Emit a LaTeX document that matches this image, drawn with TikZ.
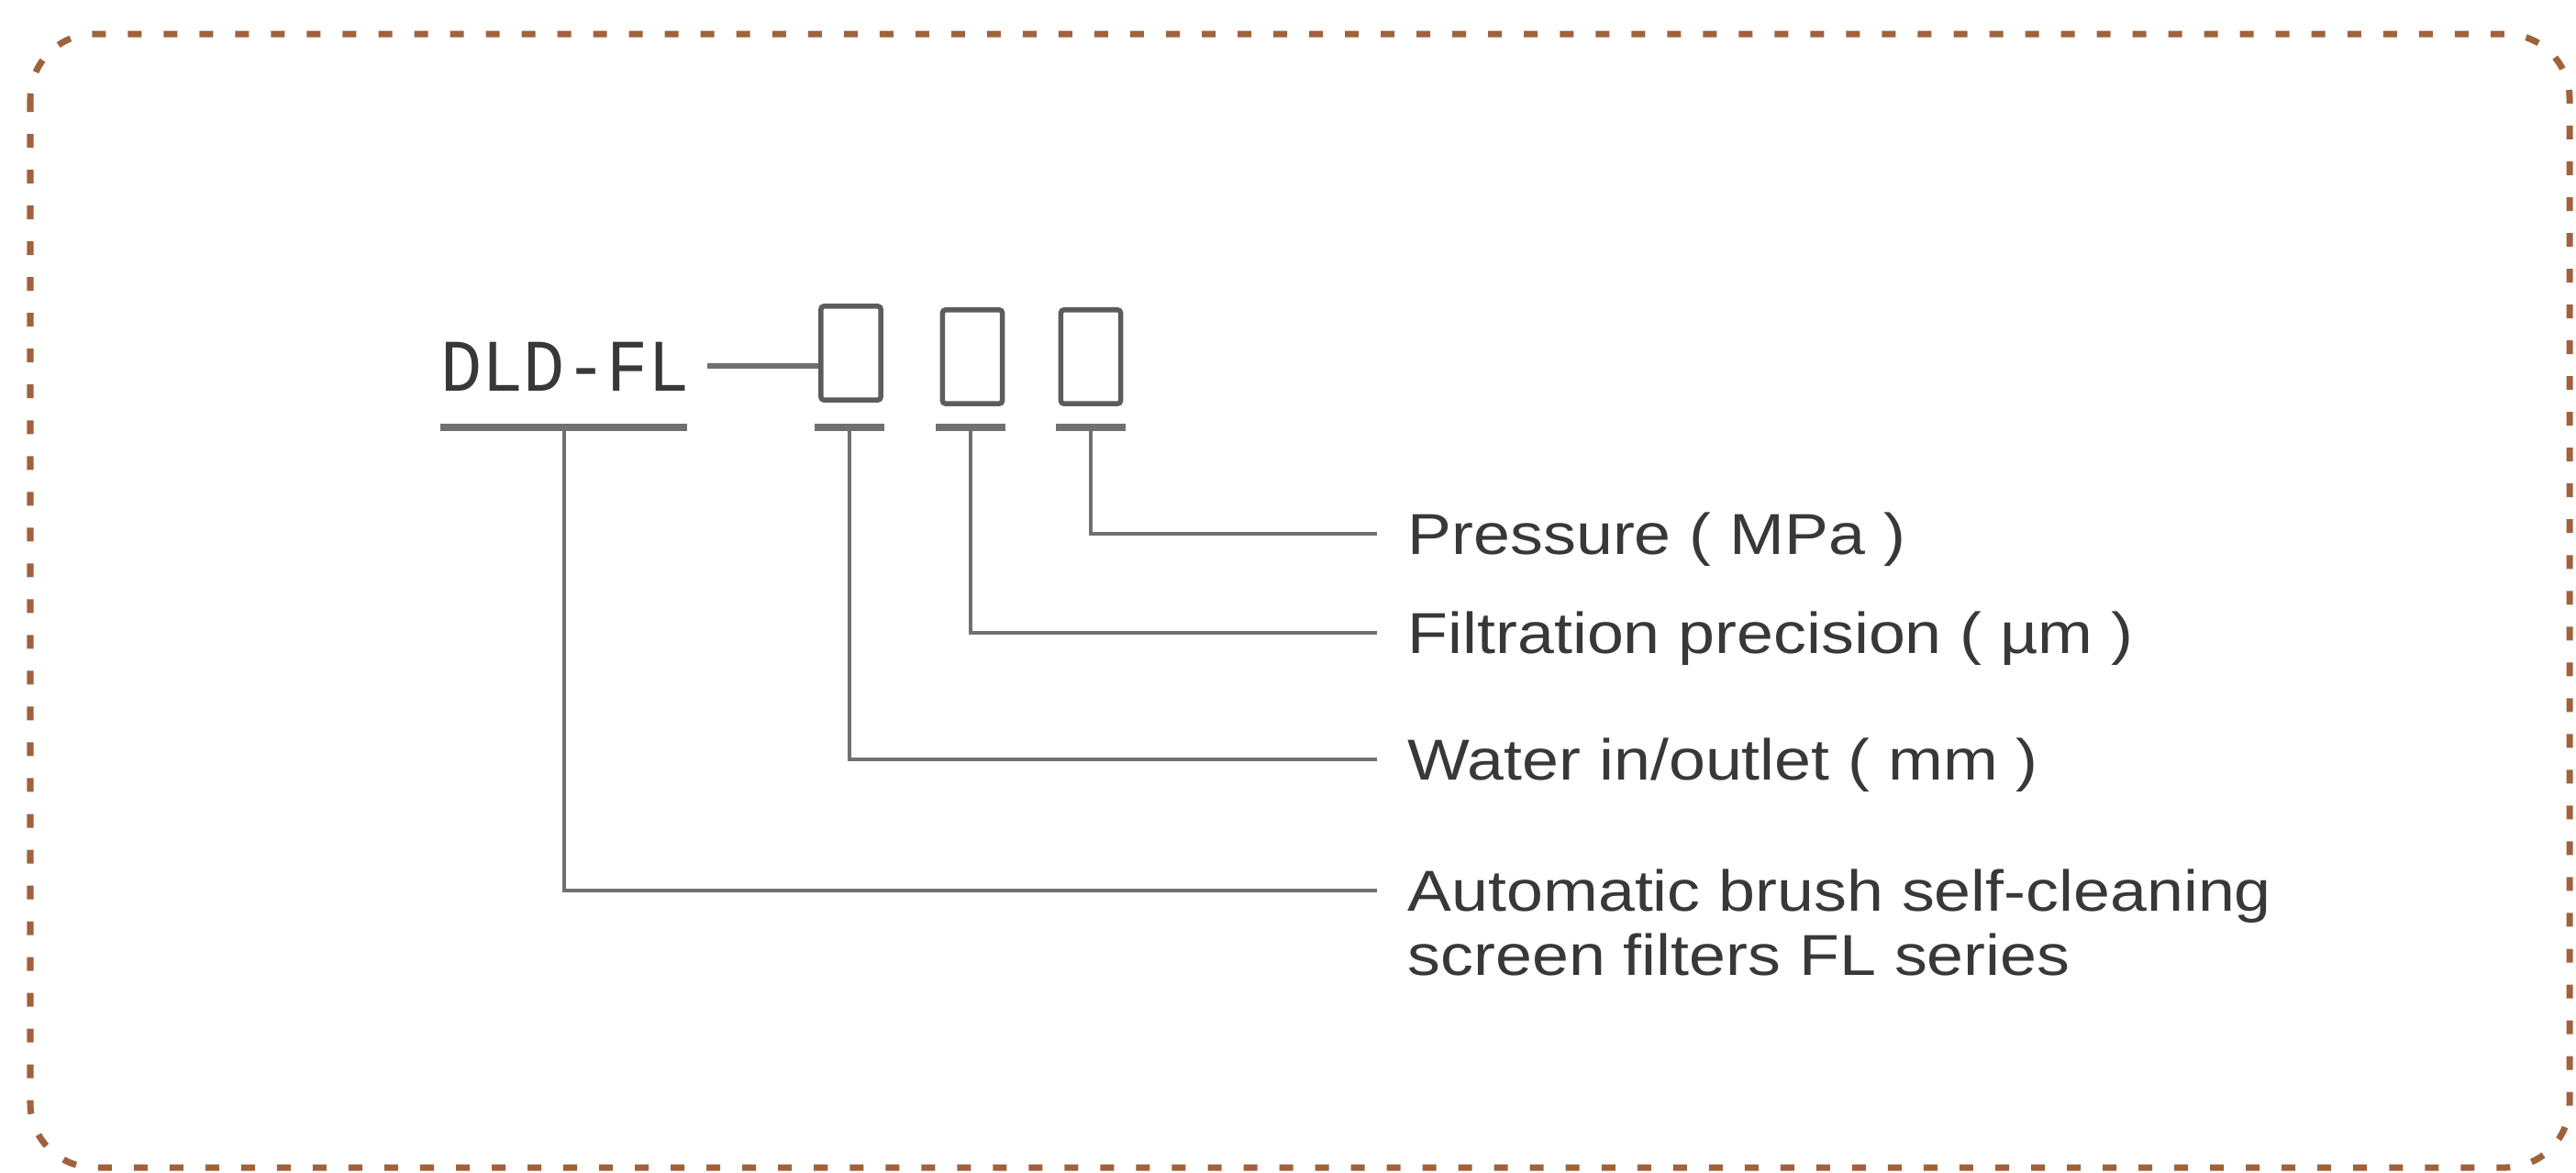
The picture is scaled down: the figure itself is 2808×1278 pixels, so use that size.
\documentclass[tikz,border=0pt]{standalone}
\usepackage{fontspec}
\setmainfont{Liberation Sans}
\newfontfamily\lblfont[FakeStretch=1.14]{Liberation Sans}
\newfontfamily\codefont[FakeStretch=0.93]{Liberation Mono}
\definecolor{framecol}{HTML}{A0623C}
\definecolor{textgray}{HTML}{383838}
\definecolor{linegray}{HTML}{707070}
\definecolor{boxgray}{HTML}{5C5C5C}
\tikzset{
  frame/.style={draw=framecol, line width=0.07cm, dash pattern=on 0.15cm off 0.24cm, rounded corners=0.7cm},
  slot/.style={draw=boxgray, line width=0.055cm, rounded corners=0.03cm, minimum width=0.65cm, minimum height=1.02cm, inner sep=0pt},
  bar/.style={fill=linegray, minimum width=0.76cm, minimum height=0.075cm, inner sep=0pt},
  lead/.style={draw=linegray, line width=0.04cm},
  lbl/.style={anchor=west, inner xsep=0.33cm, inner ysep=0pt, text height=0.45cm, text depth=0pt, text=textgray, font=\lblfont\fontsize{17.9}{19.9}\selectfont},
  code/.style={anchor=west, inner sep=0pt, text height=0.55cm, text depth=0pt, text=textgray, font=\codefont\fontsize{23}{26}\selectfont}
}
\begin{document}
\begin{tikzpicture}[x=0.01cm, y=-0.01cm]
\useasboundingbox (0,0) rectangle (2808,1278);

\draw[frame] (33,37) rectangle (2801,1273);

\node[code] (dld) at (480,398.5) {DLD-FL};
\node[bar, minimum width=2.69cm] (u0) at (614.5,466) {};

\foreach \i/\x/\y/\u in {1/927.5/385/926, 2/1060/389/1058, 3/1189/389/1189}
{
  \node[slot] (b\i) at (\x,\y) {};
  \node[bar] (u\i) at (\u,466) {}; % bar under the slot
}
\draw[lead, line width=0.06cm] ([xshift=0.19cm]dld.east) -- (dld.east -| b1.west);

\node[lbl] (l1) at (1501,582) {Pressure ( MPa )};
\node[lbl] (l2) at (1501,690) {Filtration precision ( µm )};
\node[lbl] (l3) at (1501,828) {Water in/outlet ( mm )};
\node[lbl] (l4) at (1501,971) {Automatic brush self-cleaning};
\node[lbl] (l4b) at ([yshift=-0.7cm]l4.west) {screen filters FL series};

\draw[lead] (u3.south) |- (l1.west);
\draw[lead] (u2.south) |- (l2.west);
\draw[lead] (u1.south) |- (l3.west);
\draw[lead] (u0.south) |- (l4.west);
\end{tikzpicture}
\end{document}
